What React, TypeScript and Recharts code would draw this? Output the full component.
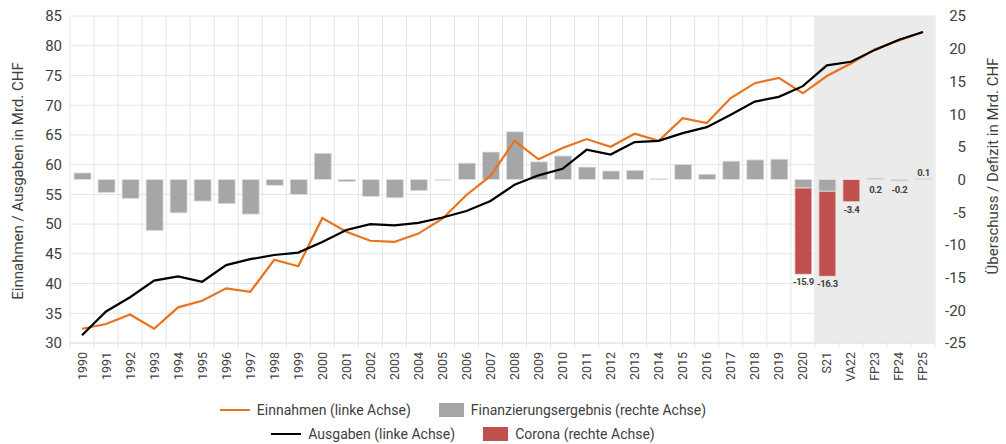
import React from "react";
import {
  ComposedChart,
  Bar,
  Line,
  XAxis,
  YAxis,
  CartesianGrid,
  ReferenceArea,
  LabelList,
} from "recharts";

// ─── Data ────────────────────────────────────────────────────────────────────

const categories = [
  "1990", "1991", "1992", "1993", "1994", "1995", "1996", "1997", "1998", "1999",
  "2000", "2001", "2002", "2003", "2004", "2005", "2006", "2007", "2008", "2009",
  "2010", "2011", "2012", "2013", "2014", "2015", "2016", "2017", "2018", "2019",
  "2020", "S21", "VA22", "FP23", "FP24", "FP25",
];

// Mrd. CHF, linke Achse
const einnahmen = [
  32.4, 33.2, 34.8, 32.4, 36.0, 37.1, 39.2, 38.6, 44.0, 42.9,
  51.0, 48.7, 47.2, 47.0, 48.4, 50.9, 54.9, 58.1, 64.0, 60.9,
  62.8, 64.3, 63.0, 65.2, 64.0, 67.8, 67.0, 71.2, 73.7, 74.6,
  72.0, 74.9, 77.0, 79.4, 80.9, 82.3,
];

const ausgaben = [
  31.3, 35.3, 37.7, 40.5, 41.2, 40.3, 43.1, 44.1, 44.8, 45.2,
  47.0, 49.0, 50.0, 49.8, 50.2, 51.1, 52.2, 53.9, 56.6, 58.2,
  59.3, 62.5, 61.7, 63.8, 64.0, 65.3, 66.3, 68.4, 70.6, 71.4,
  73.2, 76.7, 77.3, 79.3, 81.0, 82.3,
];

// Mrd. CHF, rechte Achse
const finanzierungsergebnis = [
  1.0, -2.0, -2.9, -7.8, -5.1, -3.3, -3.7, -5.3, -0.9, -2.3,
  4.0, -0.3, -2.6, -2.8, -1.7, -0.1, 2.5, 4.2, 7.3, 2.7,
  3.6, 1.9, 1.3, 1.4, 0.1, 2.3, 0.8, 2.8, 3.0, 3.1,
  -1.3, -1.8, 0, 0.2, -0.2, 0.1,
];

const corona: (number | null)[] = [
  null, null, null, null, null, null, null, null, null, null,
  null, null, null, null, null, null, null, null, null, null,
  null, null, null, null, null, null, null, null, null, null,
  -13.2, -13.0, -3.4, null, null, null,
];

const coronaLabelCats = ["2020", "S21", "VA22"];
const coronaLabelTexts = ["-15.9", "-16.3", "-3.4"];
const finLabelCats = ["FP23", "FP24", "FP25"];
const finLabelTexts = ["0.2", "-0.2", "0.1"];

const leftTicks = [30, 35, 40, 45, 50, 55, 60, 65, 70, 75, 80, 85];
const rightTicks = [-25, -20, -15, -10, -5, 0, 5, 10, 15, 20, 25];

const data = categories.map((cat, i) => {
  const ci = coronaLabelCats.indexOf(cat);
  const fi = finLabelCats.indexOf(cat);
  return {
    cat,
    einnahmen: einnahmen[i],
    ausgaben: ausgaben[i],
    fin: finanzierungsergebnis[i],
    corona: corona[i],
    corLabel: ci >= 0 ? coronaLabelTexts[ci] : "",
    finLabel: fi >= 0 ? finLabelTexts[fi] : "",
  };
});

// ─── Layout ──────────────────────────────────────────────────────────────────

const W = 1006;
const H = 400;
const PLOT_LEFT = 70;
const PLOT_RIGHT = 935;
const PLOT_TOP = 16;
const PLOT_BOTTOM = 343;
const BAND = (PLOT_RIGHT - PLOT_LEFT) / categories.length;

const FONT = "Roboto, 'DejaVu Sans', sans-serif";
const TEXT = "#404040";
const ORANGE = "#E8731C";
const GREY = "#A6A6A6";
const RED = "#C0504D";
const GRID = "#E4E4E4";

const LABEL_ABOVE = new Set(["FP25"]);

function XTick(props: any) {
  const { x, payload, index } = props;
  const isLast = index === categories.length - 1;
  return (
    <g>
      <line x1={x - BAND / 2} x2={x - BAND / 2} y1={PLOT_BOTTOM} y2={PLOT_BOTTOM + 5} stroke={GRID} />
      {isLast && (
        <line x1={x + BAND / 2} x2={x + BAND / 2} y1={PLOT_BOTTOM} y2={PLOT_BOTTOM + 5} stroke={GRID} />
      )}
      <text
        x={x}
        y={PLOT_BOTTOM + 9}
        transform={`rotate(-90, ${x}, ${PLOT_BOTTOM + 9})`}
        textAnchor="end"
        dy="0.36em"
        fontSize={12.5}
        fontFamily={FONT}
        fill={TEXT}
      >
        {payload.value}
      </text>
    </g>
  );
}

function RightTick(props: any) {
  const { y, payload } = props;
  return (
    <text x={PLOT_RIGHT + 31} y={y} dy="0.36em" textAnchor="end" fontSize={15} fontFamily={FONT} fill={TEXT}>
      {payload.value}
    </text>
  );
}

function barBounds(props: any) {
  const { x, y, width, height } = props;
  const top = Math.min(y, y + height);
  const bottom = Math.max(y, y + height);
  return { cx: x + width / 2, top, bottom };
}

const labelFont = { fontSize: 9.5, fontWeight: 700, fontFamily: FONT, fill: TEXT, letterSpacing: -0.4 };

function CoronaLabel(props: any) {
  if (!props.value) return null;
  const { cx, bottom } = barBounds(props);
  return (
    <text x={cx} y={bottom + 11} textAnchor="middle" {...labelFont}>
      {props.value}
    </text>
  );
}

function FinLabel(props: any) {
  if (!props.value) return null;
  const { cx } = barBounds(props);
  const cat = finLabelCats[finLabelTexts.indexOf(props.value)];
  const zeroY = PLOT_TOP + (PLOT_BOTTOM - PLOT_TOP) / 2;
  const ty = LABEL_ABOVE.has(cat) ? zeroY - 4 : zeroY + 13;
  return (
    <text x={cx} y={ty} textAnchor="middle" {...labelFont}>
      {props.value}
    </text>
  );
}

function LegendLine({ color }: { color: string }) {
  return <span style={{ display: "inline-block", width: 30, height: 2, background: color, marginRight: 7 }} />;
}

function LegendBox({ color }: { color: string }) {
  return <span style={{ display: "inline-block", width: 25, height: 14, background: color, marginRight: 7 }} />;
}

const rowStyle: React.CSSProperties = {
  position: "absolute",
  left: 0,
  width: 926,
  display: "flex",
  justifyContent: "center",
  alignItems: "center",
  gap: 28,
  fontFamily: FONT,
  fontSize: 14,
  color: TEXT,
  whiteSpace: "nowrap",
};

const itemStyle: React.CSSProperties = { display: "flex", alignItems: "center" };

export default function App() {
  return (
    <div style={{ position: "absolute", left: 0, top: 0, width: W, height: 444, background: "#fff" }}>
      <ComposedChart
        width={W}
        height={H}
        data={data}
        stackOffset="sign"
        margin={{ top: PLOT_TOP, right: W - PLOT_RIGHT - 40, left: PLOT_LEFT - 60, bottom: H - PLOT_BOTTOM - 45 }}
      >
        <ReferenceArea
          x1="S21"
          x2="FP25"
          yAxisId="left"
          fill="#EBEBEB"
          fillOpacity={1}
          ifOverflow="visible"
        />
        <CartesianGrid
          stroke={GRID}
          yAxisId="left"
          verticalCoordinatesGenerator={({ offset }: any) =>
            categories.map((_, i) => offset.left + (i * offset.width) / categories.length).concat(offset.left + offset.width)
          }
        />
        <XAxis
          dataKey="cat"
          interval={0}
          height={45}
          tickLine={false}
          axisLine={{ stroke: GRID }}
          tick={<XTick />}
        />
        <YAxis
          yAxisId="left"
          domain={[30, 85]}
          ticks={leftTicks}
          width={60}
          tickLine={false}
          axisLine={false}
          tick={{ fontSize: 15, fontFamily: FONT, fill: TEXT }}
        />
        <YAxis
          yAxisId="right"
          orientation="right"
          domain={[-25, 25]}
          ticks={rightTicks}
          width={40}
          tickLine={false}
          axisLine={false}
          tick={<RightTick />}
        />
        <Bar
          yAxisId="right"
          dataKey="fin"
          stackId="a"
          fill={GREY}
          stroke="#E0E0E0"
          strokeWidth={0.8}
          barSize={17}
          isAnimationActive={false}
        >
          <LabelList dataKey="finLabel" content={<FinLabel />} />
        </Bar>
        <Bar
          yAxisId="right"
          dataKey="corona"
          stackId="a"
          fill={RED}
          stroke="#E8E8E8"
          strokeWidth={0.8}
          barSize={17}
          isAnimationActive={false}
        >
          <LabelList dataKey="corLabel" content={<CoronaLabel />} />
        </Bar>
        <Line
          yAxisId="left"
          dataKey="einnahmen"
          stroke={ORANGE}
          strokeWidth={2.2}
          dot={false}
          type="linear"
          isAnimationActive={false}
        />
        <Line
          yAxisId="left"
          dataKey="ausgaben"
          stroke="#000"
          strokeWidth={2.2}
          dot={false}
          type="linear"
          isAnimationActive={false}
        />
      </ComposedChart>

      <div
        style={{
          position: "absolute",
          left: 18,
          top: 181,
          transform: "translate(-50%, -50%) rotate(-90deg)",
          fontFamily: FONT,
          fontSize: 15,
          color: TEXT,
          whiteSpace: "nowrap",
        }}
      >
        Einnahmen / Ausgaben in Mrd. CHF
      </div>
      <div
        style={{
          position: "absolute",
          left: 993,
          top: 166,
          transform: "translate(-50%, -50%) rotate(-90deg)",
          fontFamily: FONT,
          fontSize: 15,
          color: TEXT,
          whiteSpace: "nowrap",
        }}
      >
        Überschuss / Defizit in Mrd. CHF
      </div>

      <div style={{ ...rowStyle, top: 400, height: 20 }}>
        <div style={itemStyle}>
          <LegendLine color={ORANGE} />
          Einnahmen (linke Achse)
        </div>
        <div style={itemStyle}>
          <LegendBox color={GREY} />
          Finanzierungsergebnis (rechte Achse)
        </div>
      </div>
      <div style={{ ...rowStyle, top: 424, height: 20 }}>
        <div style={itemStyle}>
          <LegendLine color="#000" />
          Ausgaben (linke Achse)
        </div>
        <div style={itemStyle}>
          <LegendBox color={RED} />
          Corona (rechte Achse)
        </div>
      </div>
    </div>
  );
}
